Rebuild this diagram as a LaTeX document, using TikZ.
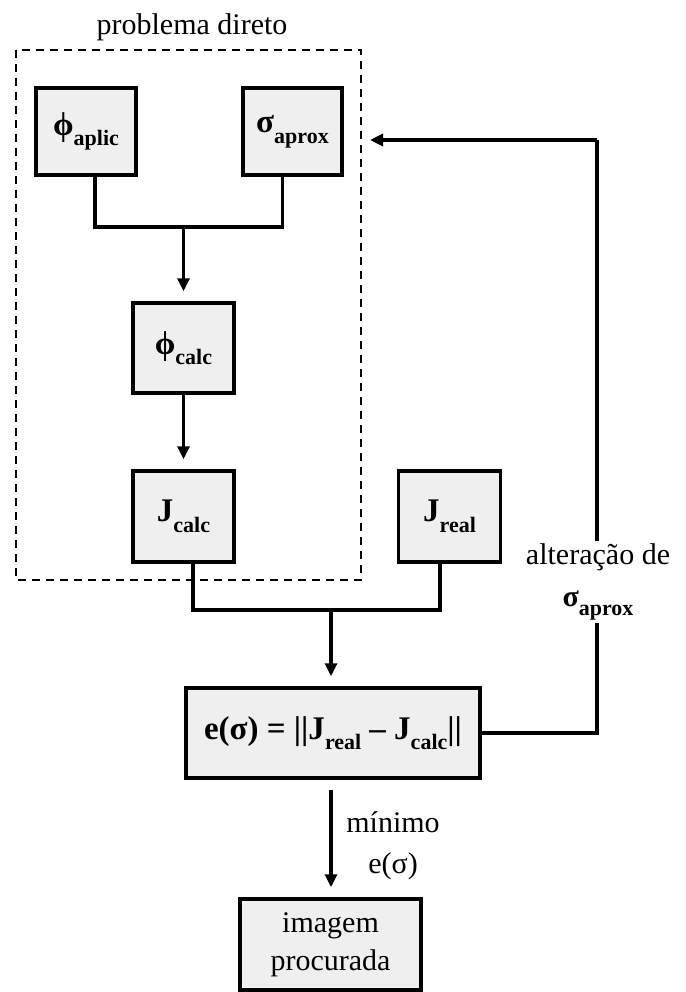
\documentclass[tikz,border=0pt]{standalone}
\usepackage{fontspec}
\setmainfont{Liberation Serif}
\usetikzlibrary{arrows.meta,positioning}

\definecolor{boxgray}{RGB}{238,239,238}
\newcommand{\sbs}[1]{\raisebox{-0.32em}{\fontsize{22}{24}\selectfont #1}}

\begin{document}
\begin{tikzpicture}[
    x=1pt, y=-1pt,
    box/.style={rectangle, draw, line width=3.5pt, fill=boxgray, align=center, inner sep=0pt,
        font=\fontsize{33}{38}\selectfont\bfseries},
    plain/.style={align=center, font=\fontsize{30}{41}\selectfont},
    line/.style={line width=3.2pt},
    arrow/.style={line width=3.2pt, -{Triangle[length=13pt,width=12pt]}, shorten >=10pt}
]
\useasboundingbox (0,0) rectangle (685,992);

% Nodes
\node[plain] (title) at (192,27) {problema direto};
\node[box, minimum width=100pt, minimum height=87pt] (aplic) at (86,131.5) {ϕ\sbs{aplic}};
\node[box, minimum width=99pt, minimum height=87pt] (aprox) at (292.5,131.5) {σ\sbs{aprox}};
\node[box, minimum width=101pt, minimum height=90pt] (phicalc) at (183.5,348) {ϕ\sbs{calc}};
\node[box, minimum width=101pt, minimum height=91pt] (jcalc) at (183.5,516.5) {J\sbs{calc}};
\node[box, minimum width=102pt, minimum height=91pt] (jreal) at (449.5,516.5) {J\sbs{real}};
\node[box, minimum width=294pt, minimum height=90pt] (err) at (333,733) {e(σ) = ||J\sbs{real} – J\sbs{calc}||};
\node[box, minimum width=181pt, minimum height=91pt, font=\fontsize{30}{38}\selectfont] (img) at (330.5,944.5) {imagem\\procurada};

% dashed frame
\draw[line width=2pt, dash pattern=on 8pt off 6pt] (16,50) rectangle (361,580);

% junctions
\coordinate (top) at (183.5,227);
\coordinate (mid) at (331,610);
\coordinate (back) at (597,140);
\coordinate (tip) at (370,140);

% Arrows
\draw[line] ([xshift=9pt]aplic.south) |- (top) -| ([xshift=-10pt]aprox.south);
\draw[arrow] (top) -- (phicalc.north);
\draw[arrow] (phicalc.south) -- (jcalc.north);
\draw[line] ([xshift=9.5pt]jcalc.south) |- (mid) -| ([xshift=-9.5pt]jreal.south);
\draw[arrow] (mid) -- (mid |- err.north);
\draw[arrow, shorten <=10pt] (err.south -| mid) -- (img.north -| mid);
\draw[line] (err.east) -| (back);
\draw[line, -{Triangle[length=13pt,width=12pt]}] (back) -- (tip);

% labels
\node[plain, fill=white, inner sep=2pt, font=\fontsize{30}{42}\selectfont] (alt) at (598,582) {alteração de\\\textbf{σ\sbs{aprox}}};
\node[plain] (min) at (393,846) {mínimo\\e(σ)};

\end{tikzpicture}
\end{document}
